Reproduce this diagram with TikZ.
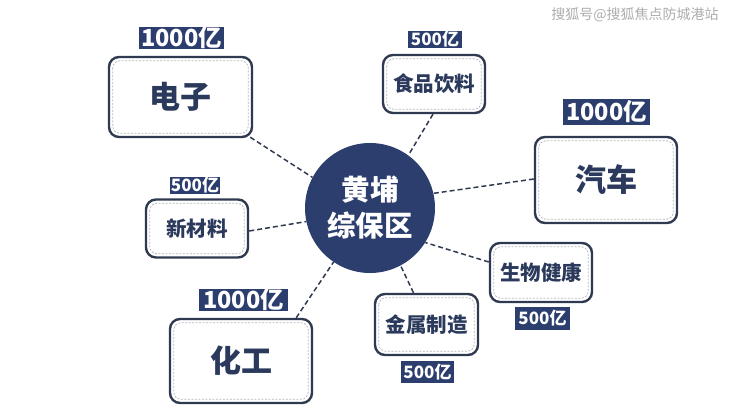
\documentclass[tikz,border=0pt]{standalone}
\usepackage{fontspec}
\newfontfamily\cjk{Noto Sans CJK SC}
\usetikzlibrary{calc}
\definecolor{navy}{HTML}{2C3E6E}
\definecolor{boxline}{HTML}{2F3A50}
\definecolor{txt}{HTML}{2B3A5C}
\definecolor{innerc}{HTML}{B4B8BF}
\begin{document}
\begin{tikzpicture}[x=1pt,y=-1pt,
  card/.style={draw=boxline, line width=2.4pt, rounded corners=10pt, fill=white,
    inner sep=0pt, text=txt},
  bigcard/.style={card, font=\cjk\bfseries\fontsize{31}{34}\selectfont},
  smallcard/.style={card, font=\cjk\bfseries\fontsize{20.5}{24}\selectfont},
  tag/.style={fill=navy, text=white, inner sep=0pt},
  bigtag/.style={tag, font=\cjk\bfseries\fontsize{23.5}{24}\selectfont},
  smalltag/.style={tag, font=\cjk\bfseries\fontsize{17}{18}\selectfont},
  innerline/.style={draw=innerc, line width=0.8pt, dash pattern=on 2pt off 1.5pt, rounded corners=7pt},
  conn/.style={draw=boxline, line width=1.5pt, dash pattern=on 5pt off 3pt}]
\useasboundingbox (0,0) rectangle (740,417);

% hub
\node[circle, fill=navy, minimum size=130pt, inner sep=0pt, text=white, align=center,
  font=\cjk\bfseries\fontsize{28.5}{36}\selectfont] (hub) at (370,208) {黄埔\\综保区};

% cards
\node[bigcard, minimum width=143pt, minimum height=80pt] (dz) at (180.5,97) {电子};
\node[smallcard, minimum width=102pt, minimum height=58pt] (sp) at (434,84) {食品饮料};
\node[bigcard, minimum width=142pt, minimum height=86pt] (qc) at (606,180) {汽车};
\node[smallcard, minimum width=102pt, minimum height=58pt] (xcl) at (197,228.5) {新材料};
\node[bigcard, minimum width=142pt, minimum height=84pt] (hg) at (241,361) {化工};
\node[smallcard, minimum width=103pt, minimum height=61pt] (js) at (426.5,324.5) {金属制造};
\node[smallcard, minimum width=102pt, minimum height=59pt] (sw) at (541,272.5) {生物健康};

\foreach \n in {dz,sp,qc,xcl,hg,js,sw}{
  \draw[innerline] ($(\n.north west)+(5,5)$) rectangle ($(\n.south east)+(-5,-5)$);
}

% tags
\node[bigtag, minimum width=85pt, minimum height=22pt] (tdz) at (181.5,38) {1000亿};
\node[smalltag, minimum width=54pt, minimum height=16pt] (tsp) at (435,39.5) {500亿};
\node[bigtag, minimum width=87pt, minimum height=26pt] (tqc) at (606.5,112) {1000亿};
\node[smalltag, minimum width=50pt, minimum height=16pt] (txcl) at (195,185.5) {500亿};
\node[bigtag, minimum width=89pt, minimum height=20pt] (thg) at (243.5,300) {1000亿};
\node[smalltag, minimum width=53pt, minimum height=22pt] (tjs) at (427.5,372) {500亿};
\node[smalltag, minimum width=55pt, minimum height=23pt] (tsw) at (542.5,318.5) {500亿};

% connectors
\draw[conn] ($(dz.south east)+(-3,-1)$) -- (hub.152);
\draw[conn] ($(sp.south)+(-1,0)$) -- (hub.54);
\draw[conn] ($(qc.west)+(0,-1)$) -- (hub.13);
\draw[conn] ($(xcl.east)+(0,2.5)$) -- (hub.-168);
\draw[conn] ($(sw.west)+(0,-10.5)$) -- (hub.-32);
\draw[conn] ($(js.north)+(-13,0)$) -- (hub.-62);
\draw[conn] ($(hg.north east)+(-17,0)$) -- (hub.-124);

% watermark
\node[text=gray!65, font=\cjk\fontsize{14}{16}\selectfont] (wm) at (635,15) {搜狐号@搜狐焦点防城港站};
\end{tikzpicture}
\end{document}
